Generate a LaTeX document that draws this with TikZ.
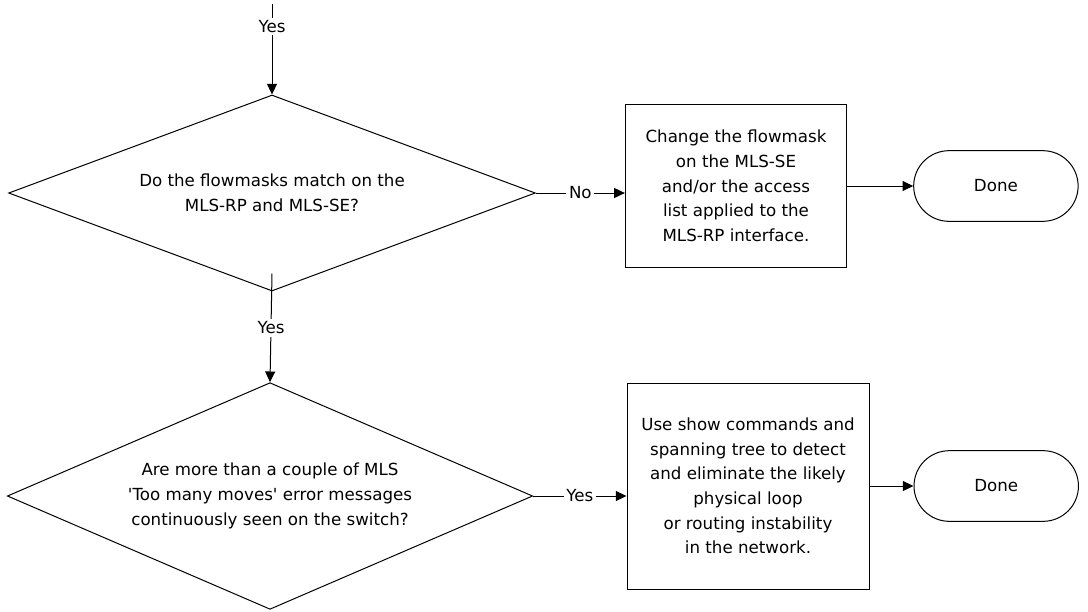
\documentclass[tikz,border=0pt]{standalone}
\usepackage{fontspec}
\setmainfont{DejaVu Sans}
\usetikzlibrary{shapes.geometric, shapes.misc, arrows.meta, positioning, calc}

\begin{document}
\begin{tikzpicture}[
        x=0.75pt, y=-0.75pt,
        line width=0.75pt,
        font=\fontsize{12.5}{18.5}\selectfont,
        decision/.style={diamond, draw, inner sep=0pt, align=center},
        action/.style={rectangle, draw, inner sep=0pt, align=center},
        terminal/.style={rounded rectangle, draw, minimum width=130pt, minimum height=53pt},
        flow/.style={-{Triangle[length=8pt, width=7.5pt]}},
        answer/.style={fill=white, inner sep=2pt}
    ]
        \useasboundingbox (0,0) rectangle (1088,611);

        \coordinate (entry) at (272,4);
        \node[decision, aspect=2.69, minimum width=395pt, minimum height=147pt] (match) at (272,193) {Do the flowmasks match on the\\MLS-RP and MLS-SE?};
        \node[decision, aspect=2.32, minimum width=394pt, minimum height=170pt] (moves) at (270,496) {Are more than a couple of MLS\\\textquotesingle Too many moves\textquotesingle{} error messages\\continuously seen on the switch?};

        \node[action, minimum width=166pt, minimum height=122pt] (change) at (736,186) {Change the flowmask\\on the MLS-SE\\and/or the access\\list applied to the\\MLS-RP interface.};
        \node[action, minimum width=181.5pt, minimum height=154.5pt] (detect) at (748,486) {Use show commands and\\spanning tree to detect\\and eliminate the likely\\physical loop\\or routing instability\\in the network.};

        \node[terminal, right=49.5pt of change] (done1) {Done};
        \node[terminal, right=33pt of detect] (done2) {Done};

        % connectors
        \draw[flow] (entry) -- node[answer, pos=0.25] {Yes} (match.north);
        \draw[flow] ($(match.south)+(0,-18)$) -- node[answer] {Yes} (moves.north);
        \draw[flow] (match.east) -- node[answer] {No} (change.west |- match.east);
        \draw[flow] (moves.east) -- node[answer] {Yes} (detect.west |- moves.east);
        \draw[flow] (change.east) -- (done1.west);
        \draw[flow] (detect.east) -- (done2.west);
    \end{tikzpicture}
\end{document}
